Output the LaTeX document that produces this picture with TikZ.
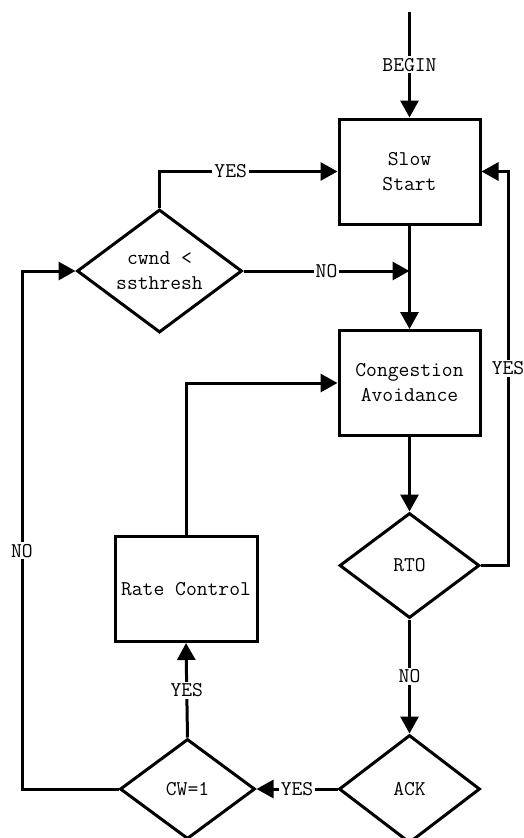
\documentclass[tikz,border=0pt]{standalone}
\usetikzlibrary{shapes.geometric,arrows.meta}
\begin{document}
\begin{tikzpicture}[x=1pt,y=-1pt,
  every node/.style={font=\ttfamily\fontsize{21}{25}\selectfont},
  boxnode/.style={draw,line width=3pt,rectangle,minimum width=141pt,minimum height=105pt,inner sep=0pt,align=center},
  decnode/.style={draw,line width=3pt,diamond,inner sep=0pt,aspect=1.34,align=center},
  conn/.style={line width=3pt},
  arr/.style={conn,-{Triangle[length=17pt,width=18pt]}},
  lbl/.style={fill=white,inner sep=2pt}]
\useasboundingbox (0,0) rectangle (524,838);
\node[boxnode] (ss) at (409.5,171.5) {Slow\\Start};
\node[boxnode] (ca) at (409.5,383) {Congestion\\Avoidance};
\node[boxnode,minimum width=142pt] (rc) at (186,589) {Rate Control};
\node[decnode,minimum width=165pt,minimum height=123pt] (cwnd) at (159.5,271) {cwnd \textless\\ssthresh};
\node[decnode,minimum width=140pt,minimum height=105pt] (rto) at (409.5,565.5) {RTO};
\node[decnode,minimum width=141pt,minimum height=108pt] (ack) at (409.5,789) {ACK};
\node[decnode,minimum width=135pt,minimum height=100pt] (cw) at (187.5,789) {CW=1};
\coordinate (top) at (409.5,12);
\coordinate (rx) at (508,0);
\coordinate (lx) at (22,0);
\coordinate (j) at (ss.south |- cwnd.east);
\draw[arr] (top) -- node[lbl]{BEGIN} (ss.north);
\draw[arr] (cwnd.north) |- node[lbl,pos=0.7]{YES} (ss.west);
\draw[arr] (cwnd.east) -- node[lbl]{NO} (j);
\draw[arr] (ss.south) -- (ca.north);
\draw[arr] (ca.south) -- (rto.north);
\draw[arr] (rto.east) -- (rto.east -| rx) -- node[lbl]{YES} (rx |- ss.east) -- (ss.east);
\draw[arr] (rto.south) -- node[lbl]{NO} (ack.north);
\draw[arr] (ack.west) -- node[lbl]{YES} (cw.east);
\draw[arr] (cw.north) -- node[lbl]{YES} (rc.south);
\draw[arr] (rc.north) |- (ca.west);
\draw[arr] (cw.west) -- (lx |- cw.west) -- node[lbl,pos=0.46]{NO} (lx |- cwnd.west) -- (cwnd.west);
\end{tikzpicture}
\end{document}
